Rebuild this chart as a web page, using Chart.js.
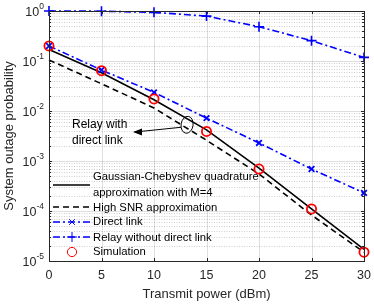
<!DOCTYPE html>
<html>
<head>
<meta charset="utf-8">
<script src="https://cdn.jsdelivr.net/npm/chart.js@4/dist/chart.umd.min.js"></script>
<style>
  html, body { margin: 0; padding: 0; background: #fff; }
  #wrap { width: 374px; height: 304px; }
</style>
</head>
<body>
<div id="wrap"><canvas id="c" width="374" height="304"></canvas></div>
<script>
// transmit power (dBm)
var power = [0, 5, 10, 15, 20, 25, 30];

// outage probability per series
var gaussCheb = [0.17, 0.058, 0.0168, 0.0042, 0.00072, 0.00011, 0.000017];
var highSnr   = [0.105, 0.035, 0.0115, 0.0026, 0.00055, 0.000083, 0.000015];
var directLink = [0.2, 0.066, 0.0236, 0.0072, 0.0023, 0.00069, 0.00023];
var relayNoDirect = [1.0, 0.99, 0.94, 0.79, 0.485, 0.255, 0.118];
var simulation = [0.2, 0.064, 0.0174, 0.0039, 0.00069, 0.00011, 0.000015];

var xTicks = [0, 5, 10, 15, 20, 25, 30];
var yExps = [-5, -4, -3, -2, -1, 0];

var legendLabels = [
  ['Gaussian-Chebyshev quadrature', 'approximation with M=4'],
  ['High SNR approximation'],
  ['Direct link'],
  ['Relay without direct link'],
  ['Simulation']
];

var textColor = '#262626';
var blue = '#0000ff';

function pts(ys) {
  return power.map(function (p, i) { return { x: p, y: ys[i] }; });
}

var datasets = [
  {
    label: 'Gaussian-Chebyshev quadrature approximation with M=4',
    data: pts(gaussCheb), borderColor: '#000', borderWidth: 1.6,
    pointRadius: 0, fill: false, order: 3
  },
  {
    label: 'High SNR approximation',
    data: pts(highSnr), borderColor: '#000', borderWidth: 1.6, borderDash: [6, 4],
    pointRadius: 0, fill: false, order: 4
  },
  {
    label: 'Direct link',
    data: pts(directLink), borderColor: blue, borderWidth: 1.6, borderDash: [7, 3, 2, 3],
    pointStyle: 'crossRot', pointRadius: 4, pointBorderWidth: 1.8, pointBorderColor: blue,
    pointBackgroundColor: blue, fill: false, order: 2
  },
  {
    label: 'Relay without direct link',
    data: pts(relayNoDirect), borderColor: blue, borderWidth: 1.6, borderDash: [7, 3, 2, 3],
    pointStyle: 'cross', pointRadius: 5, pointBorderWidth: 1.6, pointBorderColor: blue,
    pointBackgroundColor: blue, fill: false, order: 5
  },
  {
    label: 'Simulation',
    data: pts(simulation), showLine: false,
    pointStyle: 'circle', pointRadius: 4.6, pointBorderWidth: 1.8, pointBorderColor: '#ff0000',
    pointBackgroundColor: 'rgba(0,0,0,0)', order: 1
  }
];
datasets.forEach(function (d) { d.clip = false; });

var gridPlugin = {
  id: 'matlabGrid',
  beforeDatasetsDraw: function (chart) {
    var ctx = chart.ctx, a = chart.chartArea;
    var xs = chart.scales.x, ys = chart.scales.y;
    ctx.save();
    // minor log grid
    ctx.strokeStyle = 'rgba(38,38,38,0.22)';
    ctx.lineWidth = 1;
    ctx.setLineDash([1, 1.5]);
    yExps.forEach(function (e) {
      if (e === 0) return;
      for (var k = 2; k <= 9; k++) {
        var y = Math.round(ys.getPixelForValue(k * Math.pow(10, e))) + 0.5;
        ctx.beginPath(); ctx.moveTo(a.left, y); ctx.lineTo(a.right, y); ctx.stroke();
      }
    });
    ctx.setLineDash([]);
    ctx.strokeStyle = 'rgba(38,38,38,0.15)';
    yExps.forEach(function (e) {
      var y = Math.round(ys.getPixelForValue(Math.pow(10, e))) + 0.5;
      ctx.beginPath(); ctx.moveTo(a.left, y); ctx.lineTo(a.right, y); ctx.stroke();
    });
    xTicks.forEach(function (t) {
      var x = Math.round(xs.getPixelForValue(t)) + 0.5;
      ctx.beginPath(); ctx.moveTo(x, a.top); ctx.lineTo(x, a.bottom); ctx.stroke();
    });
    ctx.restore();
  },
  afterDatasetsDraw: function (chart) {
    var ctx = chart.ctx, a = chart.chartArea;
    var xs = chart.scales.x, ys = chart.scales.y;
    ctx.save();
    // box
    ctx.strokeStyle = textColor;
    ctx.lineWidth = 1;
    ctx.strokeRect(Math.round(a.left) + 0.5, Math.round(a.top) + 0.5,
      Math.round(a.right - a.left), Math.round(a.bottom - a.top));
    // ticks
    ctx.beginPath();
    xTicks.forEach(function (t) {
      var x = Math.round(xs.getPixelForValue(t)) + 0.5;
      ctx.moveTo(x, a.bottom); ctx.lineTo(x, a.bottom - 3);
      ctx.moveTo(x, a.top); ctx.lineTo(x, a.top + 3);
    });
    yExps.forEach(function (e) {
      var y = Math.round(ys.getPixelForValue(Math.pow(10, e))) + 0.5;
      ctx.moveTo(a.left, y); ctx.lineTo(a.left + 3, y);
      ctx.moveTo(a.right, y); ctx.lineTo(a.right - 3, y);
      if (e === 0) return;
      for (var k = 2; k <= 9; k++) {
        var ym = Math.round(ys.getPixelForValue(k * Math.pow(10, e))) + 0.5;
        ctx.moveTo(a.left, ym); ctx.lineTo(a.left + 2, ym);
        ctx.moveTo(a.right, ym); ctx.lineTo(a.right - 2, ym);
      }
    });
    ctx.stroke();

    // tick labels
    ctx.fillStyle = textColor;
    ctx.font = '12.5px "Liberation Sans", Arial, sans-serif';
    ctx.textAlign = 'center';
    ctx.textBaseline = 'middle';
    xTicks.forEach(function (t) {
      ctx.fillText(String(t), xs.getPixelForValue(t), 276);
    });
    yExps.forEach(function (e) {
      var y = ys.getPixelForValue(Math.pow(10, e));
      var sup = String(e);
      ctx.font = '8.5px "Liberation Sans", Arial, sans-serif';
      var w = ctx.measureText(sup).width;
      ctx.textAlign = 'left';
      ctx.fillText(sup, 44 - w, y - 4);
      ctx.font = '12.5px "Liberation Sans", Arial, sans-serif';
      ctx.textAlign = 'right';
      ctx.fillText('10', 44 - w, y + 2);
    });

    // axis titles
    ctx.font = '13px "Liberation Sans", Arial, sans-serif';
    ctx.textAlign = 'center';
    ctx.fillText('Transmit power (dBm)', (a.left + a.right) / 2, 294);
    ctx.save();
    ctx.translate(9, (a.top + a.bottom) / 2);
    ctx.rotate(-Math.PI / 2);
    ctx.fillText('System outage probability', 0, 0);
    ctx.restore();

    // legend
    var rows = [185, 207, 222, 237, 252];
    var textY = [[177, 193], [208], [222], [238], [252]];
    ctx.font = '11.3px "Liberation Sans", Arial, sans-serif';
    ctx.textAlign = 'left';
    chart.data.datasets.forEach(function (d, i) {
      var y = rows[i];
      if (d.showLine !== false) {
        ctx.save();
        ctx.strokeStyle = d.borderColor;
        ctx.lineWidth = d.borderWidth;
        ctx.setLineDash(d.borderDash || []);
        ctx.beginPath(); ctx.moveTo(53, y); ctx.lineTo(90, y); ctx.stroke();
        ctx.restore();
      }
      if (d.pointRadius) {
        ctx.save();
        ctx.strokeStyle = d.pointBorderColor;
        ctx.fillStyle = d.pointBackgroundColor;
        Chart.helpers.drawPoint(ctx, {
          pointStyle: d.pointStyle, radius: d.pointRadius, rotation: 0,
          borderWidth: d.pointBorderWidth
        }, 72, y);
        ctx.restore();
      }
      ctx.fillStyle = '#000';
      legendLabels[i].forEach(function (line, j) {
        ctx.fillText(line, 93, textY[i][j]);
      });
    });

    // annotation: ellipse + arrow + text
    var ex = xs.getPixelForValue(13.15), ey = ys.getPixelForValue(0.0053);
    ctx.strokeStyle = '#000';
    ctx.lineWidth = 1;
    ctx.beginPath();
    ctx.ellipse(ex, ey, 6, 8.5, 0.15, 0, Math.PI * 2);
    ctx.stroke();
    var tx = xs.getPixelForValue(8.0), ty = ys.getPixelForValue(0.0038);
    ctx.beginPath(); ctx.moveTo(ex - 6, ey + 2.5); ctx.lineTo(tx + 2, ty); ctx.stroke();
    ctx.fillStyle = '#000';
    ctx.beginPath();
    ctx.moveTo(tx, ty); ctx.lineTo(tx + 9, ty - 3.6); ctx.lineTo(tx + 9, ty + 3.6);
    ctx.closePath(); ctx.fill();
    ctx.font = '12px "Liberation Sans", Arial, sans-serif';
    ctx.fillText('Relay with', 72, 125);
    ctx.fillText('direct link', 72, 141);
    ctx.restore();
  }
};

new Chart(document.getElementById('c').getContext('2d'), {
  type: 'line',
  data: { datasets: datasets },
  options: {
    responsive: false,
    animation: false,
    layout: { padding: { left: 49, top: 11, right: 10, bottom: 43 } },
    plugins: { legend: { display: false }, tooltip: { enabled: false } },
    scales: {
      x: { type: 'linear', min: 0, max: 30, display: false },
      y: { type: 'logarithmic', min: 1e-5, max: 1, display: false }
    }
  },
  plugins: [gridPlugin]
});
</script>
</body>
</html>
